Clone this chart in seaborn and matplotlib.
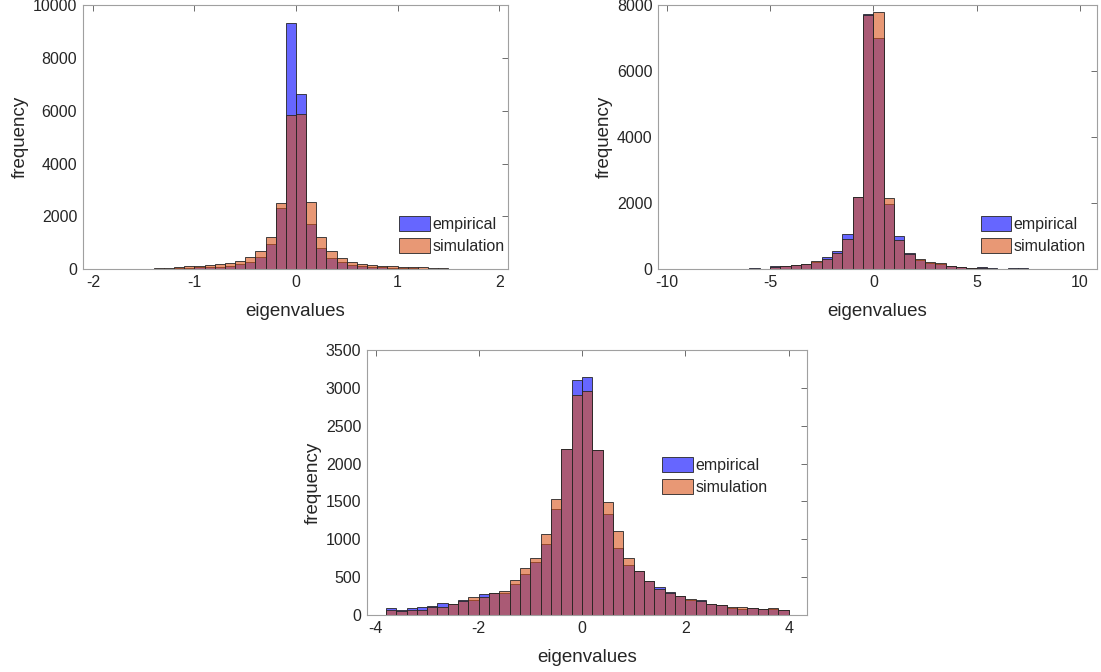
import numpy as np
import pandas as pd
import matplotlib
matplotlib.use("Agg")
import matplotlib.pyplot as plt
from matplotlib.patches import Patch
import seaborn as sns

# ---- panel 1 (top left): bins of 0.1 starting at -1.6
p1_start, p1_width = -1.6, 0.1
p1_emp = [10, 13, 13, 25, 38, 63, 75, 88, 100, 138, 189, 264, 453, 950, 2300,
          9310, 6640, 1700, 793, 415, 264, 160, 110, 88, 75, 63, 50, 38, 25,
          13, 13, 10, 10]
p1_sim = [10, 25, 40, 45, 75, 126, 126, 163, 189, 226, 302, 453, 679, 1210, 2520,
          5850, 5890, 2530, 1233, 680, 415, 289, 189, 164, 138, 126, 100, 88, 75,
          50, 38, 13, 13]

# ---- panel 2 (top right): bins of 0.5 starting at -7.5
p2_start, p2_width = -7.5, 0.5
p2_emp = [10, 20, 10, 30, 20, 90, 110, 130, 170, 233, 364, 557, 1063, 2200,
          7740, 7010, 1984, 1010, 486, 283, 202, 162, 101, 71, 51, 61, 40, 20,
          30, 30, 10, 10, 5, 10]
p2_sim = [5, 10, 10, 10, 10, 60, 91, 131, 172, 243, 314, 506, 905, 2190,
          7700, 7800, 2156, 880, 465, 314, 233, 182, 111, 71, 51, 30, 20, 15,
          10, 10, 8, 5, 3, 5]

# ---- panel 3 (bottom): bins of 0.2 starting at -3.8
p3_start, p3_width = -3.8, 0.2
p3_emp = [88, 66, 88, 101, 114, 162, 149, 202, 193, 272, 285, 294, 408, 536,
          694, 944, 1405, 2195, 3104, 3139, 2180, 1330, 882, 658, 575, 452,
          364, 298, 255, 198, 193, 140, 127, 92, 83, 88, 79, 85, 66]
p3_sim = [61, 53, 70, 66, 110, 110, 140, 184, 233, 237, 285, 316, 457, 619,
          759, 1071, 1537, 2195, 2906, 2954, 2185, 1488, 1106, 759, 575, 452,
          338, 285, 255, 211, 184, 140, 127, 110, 101, 92, 79, 88, 66]

EMP_COLOR = (0.0, 0.0, 1.0)
SIM_COLOR = (0.85, 0.325, 0.098)
EDGE = (0.15, 0.15, 0.15)
LABELS = ["empirical", "simulation"]

sns.set_style("white")
plt.rcParams["font.family"] = ["Liberation Sans", "DejaVu Sans"]
plt.rcParams["text.color"] = "#262626"
plt.rcParams["axes.labelcolor"] = "#262626"
plt.rcParams["axes.unicode_minus"] = False


def draw_panel(ax, start, width, emp, sim, xlim, xticks, ylim, yticks, leg_xy):
    n = len(emp)
    edges = start + width * np.arange(n + 1)
    centers = edges[:-1] + width / 2
    for counts, color in [(emp, EMP_COLOR), (sim, SIM_COLOR)]:
        df = pd.DataFrame({"eig": centers, "freq": counts})
        sns.histplot(data=df, x="eig", weights="freq", bins=list(edges), color=color,
                     alpha=0.6, edgecolor=EDGE, linewidth=0.6, ax=ax)
    ax.set(xlim=xlim, ylim=ylim, xticks=xticks, yticks=yticks)
    ax.set_xlabel("eigenvalues", fontsize=13.5, labelpad=9.5)
    ax.set_ylabel("frequency", fontsize=13.5, labelpad=3)
    ax.tick_params(direction="in", top=True, right=True, length=4, width=0.6,
                   color="#555555", labelsize=11.5, labelcolor="#262626", pad=4)
    for sp in ax.spines.values():
        sp.set_color("#a0a0a0")
        sp.set_linewidth(0.8)
    handles = [Patch(facecolor=EMP_COLOR + (0.6,), edgecolor=EDGE, linewidth=0.6),
               Patch(facecolor=SIM_COLOR + (0.6,), edgecolor=EDGE, linewidth=0.6)]
    ax.legend(handles, LABELS, loc="upper left", bbox_to_anchor=leg_xy,
              frameon=False, fontsize=11.5, borderpad=0, borderaxespad=0,
              handlelength=1.9, handleheight=1.0, handletextpad=0.15,
              labelspacing=0.4)


fig = plt.figure(figsize=(11.01, 6.72), dpi=100)
ax1 = fig.add_axes([0.0751, 0.5993, 0.3866, 0.3933])
ax2 = fig.add_axes([0.5979, 0.5993, 0.3982, 0.3933])
ax3 = fig.add_axes([0.3331, 0.0848, 0.3996, 0.3943])

draw_panel(ax1, p1_start, p1_width, p1_emp, p1_sim, (-2.1, 2.09),
           [-2, -1, 0, 1, 2], (0, 10000), np.arange(0, 10001, 2000), (0.744, 0.200))
draw_panel(ax2, p2_start, p2_width, p2_emp, p2_sim, (-10.41, 10.81),
           [-10, -5, 0, 5, 10], (0, 8000), np.arange(0, 8001, 2000), (0.735, 0.200))
draw_panel(ax3, p3_start, p3_width, p3_emp, p3_sim, (-4.17, 4.35),
           [-4, -2, 0, 2, 4], (0, 3500), np.arange(0, 3501, 500), (0.672, 0.595))

fig.savefig("out.png", dpi=100)
